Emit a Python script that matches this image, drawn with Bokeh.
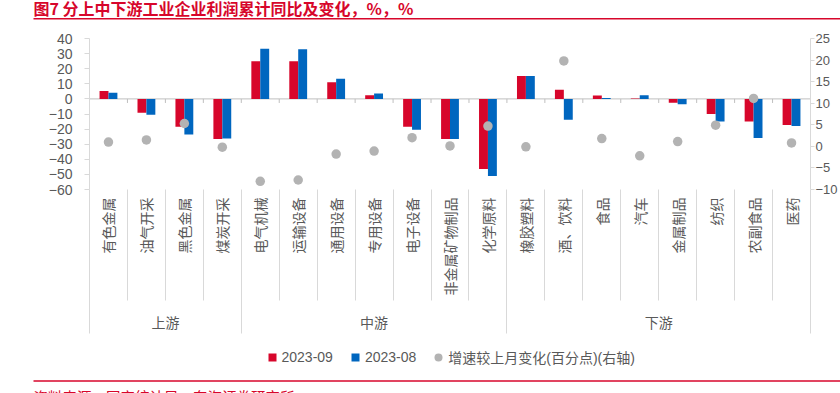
import math
import numpy as np
from bokeh.plotting import figure
from bokeh.layouts import column
from bokeh.core.properties import value
from bokeh.models import (Range1d, LinearAxis, FixedTicker, Span, Legend, LegendItem,
                          ColumnDataSource)
from bokeh.embed import file_html
from bokeh.resources import INLINE

# ---------------- data ----------------
categories = ["有色金属", "油气开采", "黑色金属", "煤炭开采", "电气机械", "运输设备", "通用设备",
              "专用设备", "电子设备", "非金属矿物制品", "化学原料", "橡胶塑料", "酒、饮料", "食品",
              "汽车", "金属制品", "纺织", "农副食品", "医药"]
groups = ["上游", "中游", "下游"]
group_sizes = [4, 7, 8]
sep_2023 = [5.2, -9.1, -18.4, -26.5, 25.0, 24.9, 11.1, 2.5, -18.4, -26.6, -46.5, 15.1, 6.1, 2.3,
            0.3, -2.5, -10.0, -14.9, -17.3]
aug_2023 = [4.1, -10.5, -23.5, -26.3, 33.2, 32.8, 13.4, 3.6, -20.4, -26.6, -51.1, 15.1, -13.8, 0.6,
            2.5, -3.6, -14.9, -25.9, -17.9]
mom_change = [1.0, 1.5, 5.3, -0.2, -8.1, -7.8, -1.8, -1.1, 2.0, 0.1, 4.7, -0.1, 19.8, 1.8,
              -2.2, 1.1, 4.9, 11.1, 0.8]
left_ticks = [40, 30, 20, 10, 0, -10, -20, -30, -40, -50, -60]
right_ticks = [25, 20, 15, 10, 5, 0, -5, -10]
series_labels = ["2023-09", "2023-08", "增速较上月变化(百分点)(右轴)"]
title_text = "图7  分上中下游工业企业利润累计同比及变化，%，%"
source_text = "资料来源：国家统计局，东海证券研究所"

# ---------------- style ----------------
RED = "#D7062B"
BLUE = "#0066BF"
DOT = "#B3B3B3"
TXT = "#595959"
SEP = "#D9D9D9"
ZERO = "#BFBFBF"
CJK = "Noto Sans CJK SC"
LAT = "Liberation Sans"

W = 840
H_TOP, H_MAIN, H_BOT = 24, 321, 48
FL, FT, FW, FH = 89, 38, 727, 151          # plot frame in page pixels
BR = W - FL - FW

n = len(categories)
centers = np.arange(n) + 0.5
bounds = np.arange(n + 1)
bar_w = 0.235
g_bounds = np.concatenate([[0], np.cumsum(group_sizes)])
g_centers = (g_bounds[:-1] + g_bounds[1:]) / 2.0


def strip(fig):
    fig.outline_line_color = None
    fig.background_fill_color = "white"
    fig.border_fill_color = "white"
    if "frame_align" in fig.properties():
        fig.frame_align = False
    return fig


# ---------------- title strip ----------------
pt = strip(figure(width=W, height=H_TOP, x_range=Range1d(0, W), y_range=Range1d(H_TOP, 0),
                  x_axis_type=None, y_axis_type=None, title=None, output_backend="svg",
                  toolbar_location=None, min_border=0))
pt.text(x=[33], y=[7], text=[title_text], text_font=value(CJK), text_font_style="bold",
        text_font_size="16px", text_color=RED, text_baseline="middle", text_align="left")
pt.segment(x0=[33], x1=[W], y0=[18.3], y1=[18.3], line_color=RED, line_width=1.5)

# ---------------- main chart ----------------
p = strip(figure(width=W, height=H_MAIN, x_range=Range1d(0, n), y_range=Range1d(-60, 40),
                 x_axis_type=None, y_axis_type=None, title=None, output_backend="svg",
                 toolbar_location=None, min_border_left=FL, min_border_right=BR,
                 min_border_top=FT - H_TOP, min_border_bottom=H_MAIN - (FT - H_TOP) - FH))
p.extra_y_ranges = {"right": Range1d(-10, 25)}

yl = LinearAxis(ticker=FixedTicker(ticks=left_ticks), major_tick_out=5, major_tick_in=0,
                axis_line_color=SEP, major_tick_line_color=SEP, major_label_standoff=12,
                major_label_text_font=LAT, major_label_text_font_size="14px",
                major_label_text_color=TXT)
p.add_layout(yl, "left")

yr = LinearAxis(y_range_name="right", ticker=FixedTicker(ticks=right_ticks),
                major_tick_out=4, major_tick_in=0, axis_line_color=SEP,
                major_tick_line_color=SEP, major_label_standoff=1,
                major_label_text_font=LAT, major_label_text_font_size="13px",
                major_label_text_color=TXT)
p.add_layout(yr, "right")

SEP1 = 111
xa = LinearAxis(ticker=FixedTicker(ticks=[float(c) for c in centers],
                                   minor_ticks=[float(b) for b in bounds]),
                major_label_overrides={float(c): cat for c, cat in zip(centers, categories)},
                major_label_orientation=math.pi / 2, major_tick_out=0, major_tick_in=0,
                major_tick_line_color=None, minor_tick_out=SEP1, minor_tick_in=0,
                minor_tick_line_color=SEP, axis_line_color=None,
                major_label_standoff=8 - SEP1,
                major_label_text_font=CJK, major_label_text_font_size="14px",
                major_label_text_color=TXT)
p.add_layout(xa, "below")

SEP2 = 35
xg = LinearAxis(ticker=FixedTicker(ticks=[float(c) for c in g_centers],
                                   minor_ticks=[float(b) for b in g_bounds]),
                major_label_overrides={float(c): g for c, g in zip(g_centers, groups)},
                major_tick_out=0, major_tick_in=0, major_tick_line_color=None,
                minor_tick_out=SEP2, minor_tick_in=0, minor_tick_line_color=SEP,
                axis_line_color=None, major_label_standoff=13 - SEP2,
                major_label_text_font=CJK, major_label_text_font_size="14px",
                major_label_text_color=TXT)
p.add_layout(xg, "below")

p.add_layout(Span(location=0, dimension="width", line_color=ZERO, line_width=1, level="underlay"))
p.segment(x0=bounds, y0=0, x1=bounds, y1=-2.7, line_color=ZERO, line_width=1)

src = ColumnDataSource(dict(x=centers, x_sep=centers - bar_w / 2, x_aug=centers + bar_w / 2,
                            sep=sep_2023, aug=aug_2023, chg=mom_change))
p.vbar(x="x_sep", top="sep", bottom=0, width=bar_w, source=src, fill_color=RED, line_color=None)
p.vbar(x="x_aug", top="aug", bottom=0, width=bar_w, source=src, fill_color=BLUE, line_color=None)
p.scatter(x="x", y="chg", source=src, size=9.5, fill_color=DOT, line_color=None,
          y_range_name="right")

# ---------------- legend + source strip ----------------
Y0 = H_TOP + H_MAIN
pb = strip(figure(width=W, height=H_BOT, x_range=Range1d(0, W), y_range=Range1d(Y0 + H_BOT, Y0),
                  x_axis_type=None, y_axis_type=None, title=None, output_backend="svg",
                  toolbar_location=None, min_border=0))
d1 = pb.scatter(x=[np.nan], y=[np.nan], marker="square", size=8, fill_color=RED, line_color=None)
d2 = pb.scatter(x=[np.nan], y=[np.nan], marker="square", size=8, fill_color=BLUE, line_color=None)
d3 = pb.scatter(x=[np.nan], y=[np.nan], marker="circle", size=9, fill_color=DOT, line_color=None)
LEG_LEFT, LEG_MID = 261.5, 356.7
legend = Legend(items=[LegendItem(label=series_labels[0], renderers=[d1]),
                       LegendItem(label=series_labels[1], renderers=[d2]),
                       LegendItem(label=series_labels[2], renderers=[d3])],
                orientation="horizontal",
                location=(LEG_LEFT, (Y0 + H_BOT) - (LEG_MID + 10)),
                glyph_width=20, glyph_height=20,
                label_standoff=0, spacing=12, padding=0, margin=0, border_line_color=None,
                background_fill_alpha=0, label_text_font=LAT + ", " + CJK,
                label_text_font_size="14px", label_text_color=TXT, label_height=20)
pb.add_layout(legend, "center")
pb.segment(x0=[33], x1=[W], y0=[380.5], y1=[380.5], line_color=RED, line_width=1.5)
pb.text(x=[33], y=[385.5], text=[source_text], text_font=value(CJK), text_font_size="14.5px",
        text_color=RED, text_baseline="top", text_align="left")

layout = column(pt, p, pb, spacing=0)
open("out.html", "w").write(file_html(layout, INLINE, title="chart"))
